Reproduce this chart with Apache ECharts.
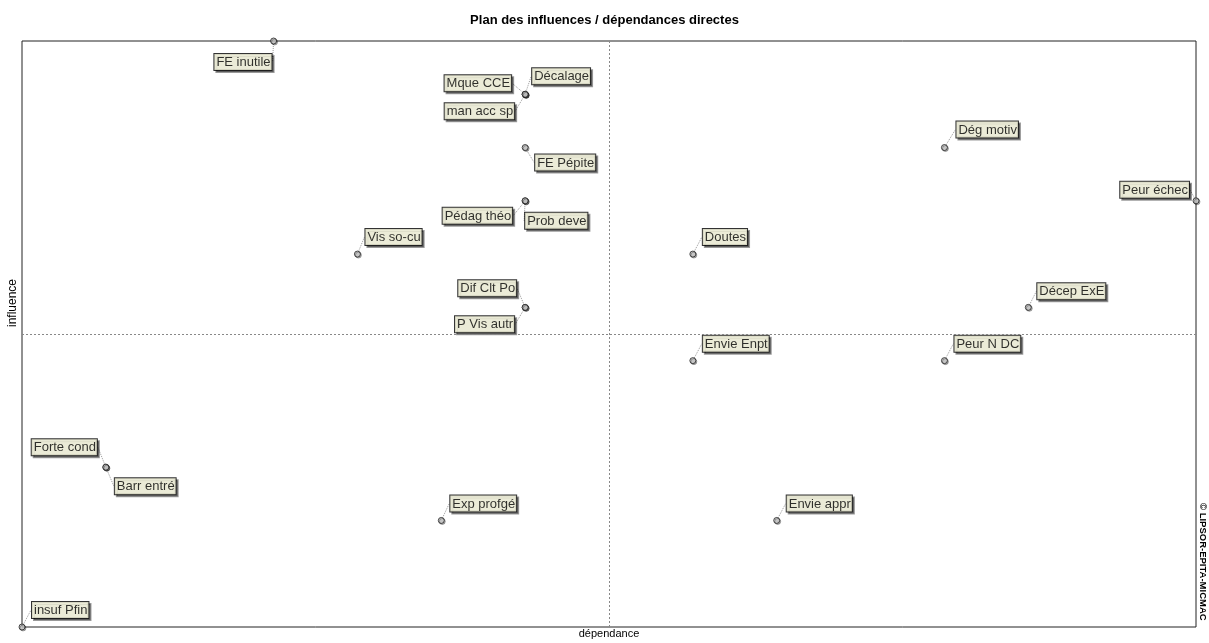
<!DOCTYPE html>
<html>
<head>
<meta charset="utf-8">
<title>Plan des influences / dépendances directes</title>
<script src="https://cdn.jsdelivr.net/npm/echarts@6/dist/echarts.min.js"></script>
<style>
  html, body { margin: 0; padding: 0; background: #fff; }
  #chart { width: 1209px; height: 643px; }
</style>
</head>
<body>
<div id="chart"></div>
<script>
  // variables du MICMAC
  const variables = [
    'FE inutile', 'Décalage', 'Mque CCE', 'man acc sp', 'FE Pépite',
    'Pédag théo', 'Prob deve', 'Vis so-cu', 'Dif Clt Po', 'P Vis autr',
    'Doutes', 'Dég motiv', 'Peur échec', 'Décep ExE', 'Envie Enpt',
    'Peur N DC', 'Forte cond', 'Barr entré', 'Exp profgé', 'Envie appr',
    'insuf Pfin'
  ]
  const dependance = [3, 6, 6, 6, 6, 6, 6, 4, 6, 6, 8, 11, 14, 12, 8, 11, 1, 1, 5, 9, 0]
  const influence = [11, 10, 10, 10, 9, 8, 8, 7, 6, 6, 7, 9, 8, 6, 5, 5, 3, 3, 2, 2, 0]

  // bornes des axes
  const xMax = 14
  const yMax = 11

  // placement des etiquettes : [align, verticalAlign, dx, dy]
  const labelPlacement = [
    ['right', 'top', -2, 13], ['left', 'bottom', 7, -10], ['right', 'bottom', -14, -3],
    ['right', 'top', -11, 9], ['left', 'top', 10, 7], ['right', 'top', -13, 7],
    ['left', 'top', 0, 12], ['left', 'bottom', 8, -9], ['right', 'bottom', -9, -11],
    ['right', 'top', -11, 9], ['left', 'bottom', 10, -9], ['left', 'bottom', 12, -10],
    ['right', 'bottom', -7, -3], ['left', 'bottom', 9, -8], ['left', 'bottom', 10, -9],
    ['left', 'bottom', 10, -9], ['right', 'bottom', -9, -12], ['left', 'top', 9, 11],
    ['left', 'bottom', 9, -9], ['left', 'bottom', 10, -9], ['left', 'bottom', 10, -9]
  ]

  const font = '"Liberation Sans", Arial, sans-serif'
  const chartInstance = echarts.init(document.getElementById('chart'))

  const points = variables.map((name, i) => {
    return { name: name, value: [dependance[i], influence[i]] }
  })

  const option = {
    animation: false,
    backgroundColor: '#fff',
    textStyle: { fontFamily: font },
    title: {
      text: 'Plan des influences / dépendances directes',
      left: 'center',
      top: 9,
      textStyle: { fontSize: 13, fontWeight: 'bold', color: '#000', fontFamily: font }
    },
    grid: {
      left: 22,
      right: 13,
      top: 41,
      bottom: 16,
      outerBoundsMode: 'none',
      containLabel: false,
      show: true,
      borderColor: '#222',
      borderWidth: 1
    },
    xAxis: {
      type: 'value',
      min: 0,
      max: xMax,
      name: 'dépendance',
      nameLocation: 'middle',
      nameGap: 1,
      nameTextStyle: { fontSize: 11, color: '#000', verticalAlign: 'top' },
      axisLine: { show: false },
      axisTick: { show: false },
      axisLabel: { show: false },
      splitLine: { show: false }
    },
    yAxis: {
      type: 'value',
      min: 0,
      max: yMax,
      axisLine: { show: false },
      axisTick: { show: false },
      axisLabel: { show: false },
      splitLine: { show: false }
    },
    graphic: [
      {
        // nom de l'axe vertical, un peu au-dessus du milieu
        type: 'text',
        left: 7,
        top: 279,
        rotation: Math.PI / 2,
        style: {
          text: 'influence',
          fontSize: 12,
          fill: '#000',
          fontFamily: font
        }
      },
      {
        type: 'text',
        right: 1,
        top: 503,
        rotation: -Math.PI / 2,
        style: {
          text: '© LIPSOR-EPITA-MICMAC',
          fontSize: 9.5,
          fontWeight: 'bold',
          fill: '#000',
          fontFamily: font
        }
      }
    ],
    series: [
      {
        type: 'scatter',
        data: points,
        symbol: 'circle',
        symbolSize: 6,
        itemStyle: {
          color: '#c8c8c8',
          borderColor: '#222',
          borderWidth: 1,
          shadowColor: 'rgba(0,0,0,0.35)',
          shadowOffsetX: 1,
          shadowOffsetY: 1
        },
        label: {
          show: true,
          position: 'inside',
          formatter: '{b}',
          fontSize: 13,
          lineHeight: 15,
          color: '#000',
          fontFamily: font,
          backgroundColor: '#ffffe6',
          borderColor: '#000',
          borderWidth: 1,
          padding: [1, 1, 0, 2],
          shadowColor: 'rgba(0,0,0,0.5)',
          shadowOffsetX: 2,
          shadowOffsetY: 2,
          shadowBlur: 0
        },
        labelLine: {
          show: true,
          lineStyle: { color: '#999', width: 1, type: 'dotted' }
        },
        labelLayout: params => {
          const p = labelPlacement[params.dataIndex]
          const cx = params.rect.x + params.rect.width / 2
          const cy = params.rect.y + params.rect.height / 2
          return { x: cx + p[2], y: cy + p[3], align: p[0], verticalAlign: p[1] }
        },
        markLine: {
          silent: true,
          symbol: 'none',
          label: { show: false },
          lineStyle: { color: '#888', type: [2, 2], width: 1 },
          data: [{ xAxis: xMax / 2 }, { yAxis: yMax / 2 }]
        }
      }
    ]
  }
  chartInstance.setOption(option)
</script>
</body>
</html>
